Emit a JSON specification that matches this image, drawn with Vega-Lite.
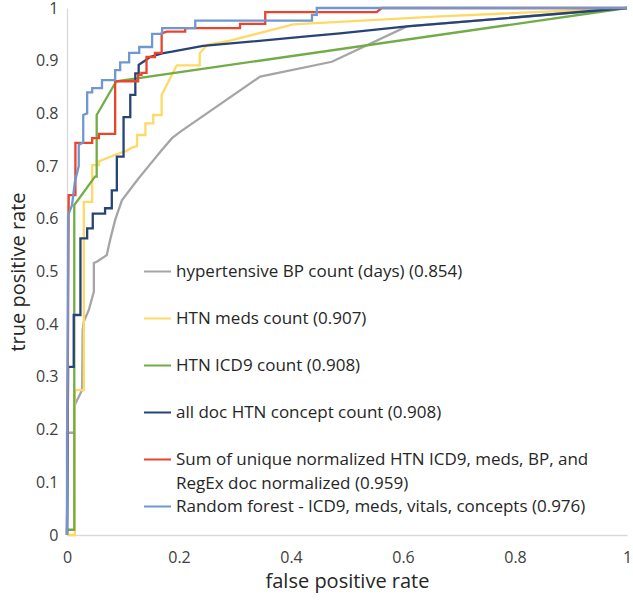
{
  "$schema": "https://vega.github.io/schema/vega-lite/v6.json",
  "width": 560,
  "height": 527,
  "autosize": {"type": "none"},
  "padding": {"left": 67, "top": 8, "right": 6, "bottom": 67},
  "background": "white",
  "config": {
    "font": "Open Sans",
    "view": {"stroke": null},
    "axis": {"grid": false, "ticks": false, "domainColor": "#d9d9d9", "domainWidth": 1.3, "labelFontSize": 16, "labelColor": "#404040", "titleFontSize": 20, "titleFontWeight": "normal", "titleColor": "#262626"},
    "legend": {"orient": "none", "legendX": 76, "legendY": 249, "padding": 0, "symbolType": "M-1,0H1M0,2.1L0,2.1001", "symbolSize": 729, "symbolStrokeWidth": 2, "labelFontSize": 17, "labelColor": "#262626", "labelOffset": 4, "labelLimit": 600, "rowPadding": 0, "title": null}
  },
  "datasets": {
    "names": [
      {"k": "g", "name": "hypertensive BP count (days) (0.854)"},
      {"k": "yl", "name": "HTN meds count (0.907)"},
      {"k": "gr", "name": "HTN ICD9 count (0.908)"},
      {"k": "n", "name": "all doc HTN concept count (0.908)"},
      {"k": "r", "name": "Sum of unique normalized HTN ICD9, meds, BP, and|RegEx doc normalized (0.959)"},
      {"k": "b", "name": "Random forest - ICD9, meds, vitals, concepts (0.976)"}
    ]
  },
  "data": {"values": [
    {"k":"g","x":0,"y":0},{"k":"g","x":0,"y":0.194},{"k":"g","x":0.014,"y":0.194},{"k":"g","x":0.014,"y":0.247},{"k":"g","x":0.027,"y":0.275},{"k":"g","x":0.028,"y":0.389},{"k":"g","x":0.03,"y":0.405},{"k":"g","x":0.039,"y":0.427},{"k":"g","x":0.048,"y":0.462},{"k":"g","x":0.048,"y":0.516},{"k":"g","x":0.054,"y":0.519},{"k":"g","x":0.071,"y":0.531},{"k":"g","x":0.077,"y":0.56},{"k":"g","x":0.086,"y":0.598},{"k":"g","x":0.098,"y":0.635},{"k":"g","x":0.128,"y":0.677},{"k":"g","x":0.145,"y":0.699},{"k":"g","x":0.169,"y":0.73},{"k":"g","x":0.1875,"y":0.753},{"k":"g","x":0.202,"y":0.765},{"k":"g","x":0.345,"y":0.87},{"k":"g","x":0.473,"y":0.898},{"k":"g","x":0.607,"y":0.965},{"k":"g","x":1,"y":1},
    {"k":"yl","x":0,"y":0},{"k":"yl","x":0.014,"y":0},{"k":"yl","x":0.014,"y":0.275},{"k":"yl","x":0.03,"y":0.275},{"k":"yl","x":0.03,"y":0.632},{"k":"yl","x":0.045,"y":0.632},{"k":"yl","x":0.045,"y":0.702},{"k":"yl","x":0.057,"y":0.702},{"k":"yl","x":0.057,"y":0.709},{"k":"yl","x":0.087,"y":0.722},{"k":"yl","x":0.104,"y":0.728},{"k":"yl","x":0.116,"y":0.735},{"k":"yl","x":0.125,"y":0.738},{"k":"yl","x":0.125,"y":0.759},{"k":"yl","x":0.14,"y":0.759},{"k":"yl","x":0.14,"y":0.781},{"k":"yl","x":0.154,"y":0.781},{"k":"yl","x":0.154,"y":0.797},{"k":"yl","x":0.169,"y":0.797},{"k":"yl","x":0.169,"y":0.835},{"k":"yl","x":0.19,"y":0.879},{"k":"yl","x":0.196,"y":0.891},{"k":"yl","x":0.237,"y":0.891},{"k":"yl","x":0.237,"y":0.914},{"k":"yl","x":0.25,"y":0.93},{"k":"yl","x":0.291,"y":0.938},{"k":"yl","x":0.404,"y":0.969},{"k":"yl","x":0.666,"y":0.984},{"k":"yl","x":1,"y":1},
    {"k":"gr","x":0,"y":0},{"k":"gr","x":0,"y":0.01},{"k":"gr","x":0.013,"y":0.01},{"k":"gr","x":0.013,"y":0.626},{"k":"gr","x":0.05,"y":0.68},{"k":"gr","x":0.053,"y":0.68},{"k":"gr","x":0.053,"y":0.797},{"k":"gr","x":0.088,"y":0.861},{"k":"gr","x":1,"y":1},
    {"k":"n","x":0,"y":0},{"k":"n","x":0.002,"y":0.319},{"k":"n","x":0.012,"y":0.319},{"k":"n","x":0.012,"y":0.4175},{"k":"n","x":0.024,"y":0.4175},{"k":"n","x":0.024,"y":0.563},{"k":"n","x":0.036,"y":0.563},{"k":"n","x":0.036,"y":0.582},{"k":"n","x":0.046,"y":0.582},{"k":"n","x":0.046,"y":0.61},{"k":"n","x":0.068,"y":0.61},{"k":"n","x":0.068,"y":0.62},{"k":"n","x":0.08,"y":0.62},{"k":"n","x":0.08,"y":0.654},{"k":"n","x":0.089,"y":0.654},{"k":"n","x":0.089,"y":0.718},{"k":"n","x":0.101,"y":0.718},{"k":"n","x":0.101,"y":0.793},{"k":"n","x":0.113,"y":0.793},{"k":"n","x":0.113,"y":0.835},{"k":"n","x":0.122,"y":0.835},{"k":"n","x":0.122,"y":0.876},{"k":"n","x":0.128,"y":0.876},{"k":"n","x":0.128,"y":0.892},{"k":"n","x":0.139,"y":0.9},{"k":"n","x":0.148,"y":0.907},{"k":"n","x":0.17,"y":0.914},{"k":"n","x":0.1875,"y":0.917},{"k":"n","x":0.243,"y":0.928},{"k":"n","x":0.428,"y":0.946},{"k":"n","x":0.4875,"y":0.952},{"k":"n","x":0.607,"y":0.965},{"k":"n","x":1,"y":1},
    {"k":"r","x":0,"y":0},{"k":"r","x":0.003,"y":0.645},{"k":"r","x":0.015,"y":0.645},{"k":"r","x":0.015,"y":0.744},{"k":"r","x":0.045,"y":0.744},{"k":"r","x":0.045,"y":0.753},{"k":"r","x":0.057,"y":0.753},{"k":"r","x":0.057,"y":0.761},{"k":"r","x":0.086,"y":0.761},{"k":"r","x":0.086,"y":0.861},{"k":"r","x":0.127,"y":0.861},{"k":"r","x":0.127,"y":0.873},{"k":"r","x":0.133,"y":0.873},{"k":"r","x":0.133,"y":0.877},{"k":"r","x":0.142,"y":0.877},{"k":"r","x":0.142,"y":0.907},{"k":"r","x":0.157,"y":0.907},{"k":"r","x":0.157,"y":0.915},{"k":"r","x":0.169,"y":0.915},{"k":"r","x":0.169,"y":0.952},{"k":"r","x":0.178,"y":0.955},{"k":"r","x":0.211,"y":0.955},{"k":"r","x":0.211,"y":0.962},{"k":"r","x":0.309,"y":0.962},{"k":"r","x":0.309,"y":0.97},{"k":"r","x":0.354,"y":0.97},{"k":"r","x":0.354,"y":0.992},{"k":"r","x":0.553,"y":0.992},{"k":"r","x":0.562,"y":1},{"k":"r","x":1,"y":1},
    {"k":"b","x":0,"y":0},{"k":"b","x":0.002,"y":0.607},{"k":"b","x":0.009,"y":0.626},{"k":"b","x":0.014,"y":0.67},{"k":"b","x":0.021,"y":0.7},{"k":"b","x":0.021,"y":0.74},{"k":"b","x":0.029,"y":0.745},{"k":"b","x":0.029,"y":0.797},{"k":"b","x":0.036,"y":0.8},{"k":"b","x":0.036,"y":0.84},{"k":"b","x":0.045,"y":0.84},{"k":"b","x":0.045,"y":0.848},{"k":"b","x":0.0625,"y":0.848},{"k":"b","x":0.0625,"y":0.863},{"k":"b","x":0.086,"y":0.863},{"k":"b","x":0.086,"y":0.882},{"k":"b","x":0.095,"y":0.882},{"k":"b","x":0.095,"y":0.897},{"k":"b","x":0.111,"y":0.897},{"k":"b","x":0.111,"y":0.915},{"k":"b","x":0.129,"y":0.915},{"k":"b","x":0.129,"y":0.926},{"k":"b","x":0.152,"y":0.926},{"k":"b","x":0.152,"y":0.951},{"k":"b","x":0.17,"y":0.951},{"k":"b","x":0.17,"y":0.962},{"k":"b","x":0.229,"y":0.962},{"k":"b","x":0.229,"y":0.976},{"k":"b","x":0.4375,"y":0.976},{"k":"b","x":0.4375,"y":0.987},{"k":"b","x":0.446,"y":0.987},{"k":"b","x":0.446,"y":1},{"k":"b","x":1,"y":1}
  ]},
  "transform": [
    {"lookup": "k", "from": {"data": {"name": "names"}, "key": "k", "fields": ["name"]}}
  ],
  "mark": {"type": "line", "strokeWidth": 2.3, "strokeJoin": "miter", "clip": false},
  "encoding": {
    "x": {"field": "x", "type": "quantitative", "scale": {"domain": [0, 1], "nice": false, "zero": false},
      "axis": {"title": "false positive rate", "values": [0, 0.2, 0.4, 0.6, 0.8, 1], "format": ".1~f", "labelPadding": 14, "titlePadding": 6, "labelFlush": false}},
    "y": {"field": "y", "type": "quantitative", "scale": {"domain": [0, 1], "nice": false, "zero": false},
      "axis": {"title": "true positive rate", "values": [0, 0.1, 0.2, 0.3, 0.4, 0.5, 0.6, 0.7, 0.8, 0.9, 1], "format": ".1~f", "labelPadding": 9, "titleX": -49, "titleY": 263.5, "titleBaseline": "middle", "titleAngle": -90, "labelFlush": false}},
    "color": {"field": "name", "type": "nominal",
      "scale": {"domain": [
        "hypertensive BP count (days) (0.854)",
        "HTN meds count (0.907)",
        "HTN ICD9 count (0.908)",
        "all doc HTN concept count (0.908)",
        "Sum of unique normalized HTN ICD9, meds, BP, and|RegEx doc normalized (0.959)",
        "Random forest - ICD9, meds, vitals, concepts (0.976)"
      ], "range": ["#A5A5A5", "#FFD966", "#70AD47", "#264478", "#E8452C", "#6F98D2"]},
      "legend": {"labelExpr": "split(datum.label, '|')", "encode": {"labels": {"update": {"lineHeight": {"value": 24}}}}}},
    "order": {"value": null}
  }
}
